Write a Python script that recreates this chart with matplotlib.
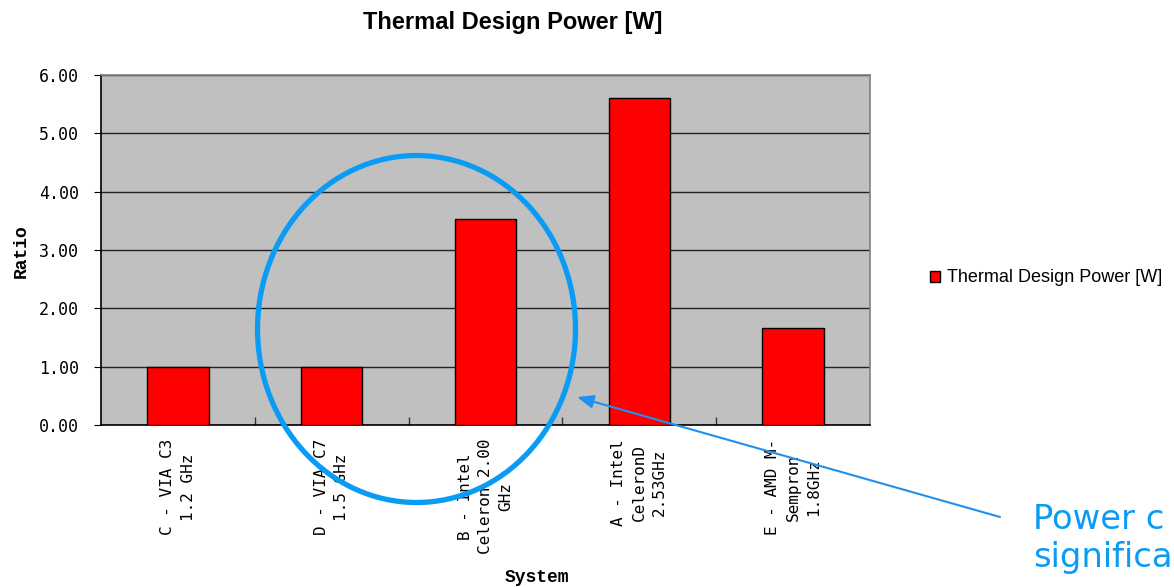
import matplotlib
matplotlib.use("Agg")
import matplotlib.pyplot as plt
from matplotlib.patches import Ellipse
from matplotlib.ticker import FixedLocator, FormatStrFormatter

categories = ["C - VIA C3\n1.2 GHz", "D - VIA C7\n1.5 GHz", "B - Intel\nCeleron 2.00\nGHz",
              "A - Intel\nCeleronD\n2.53GHz", "E - AMD M-\nSempron\n1.8GHz"]
values = [1.00, 1.00, 3.53, 5.61, 1.67]
series_name = "Thermal Design Power [W]"
y_ticks = [0, 1, 2, 3, 4, 5, 6]

W, H = 1174, 587
fig = plt.figure(figsize=(W / 100, H / 100), dpi=100)
ax = fig.add_axes([101 / W, 1 - 425 / H, (870 - 101) / W, (425 - 75) / H])

ax.set_facecolor("#C0C0C0")
x = list(range(len(categories)))
ax.bar(x, values, width=0.40, color="#FF0000", edgecolor="black", linewidth=1.0,
       label=series_name, zorder=3)
ax.set_xlim(-0.5, len(categories) - 0.5)
ax.set_ylim(0, 6)

ax.set_yticks(y_ticks)
ax.yaxis.set_major_formatter(FormatStrFormatter("%.2f"))
ax.yaxis.grid(True, color="#222222", linewidth=1.0)
ax.set_axisbelow(True)

ax.set_xticks(x)
ax.set_xticklabels(categories, rotation=90, family="DejaVu Sans Mono", fontsize=11.5,
                   linespacing=1.45, ha="center", va="top", multialignment="center")
ax.xaxis.set_minor_locator(FixedLocator([i + 0.5 for i in x[:-1]]))
ax.tick_params(axis="x", which="major", length=0, pad=10)
ax.tick_params(axis="x", which="minor", length=6, direction="in", color="#333333", width=1)
ax.tick_params(axis="y", length=5, direction="out", pad=11, labelsize=12)
for lbl in ax.get_yticklabels():
    lbl.set_family("DejaVu Sans Mono")

for s in ["left", "bottom"]:
    ax.spines[s].set_color("black")
    ax.spines[s].set_linewidth(1.2)
for s in ["top", "right"]:
    ax.spines[s].set_color("#808080")
    ax.spines[s].set_linewidth(1.2)

fig.text(513 / W, 1 - 22 / H, "Thermal Design Power [W]", ha="center", va="center",
         family="Liberation Sans", weight="bold", fontsize=17)
fig.text(537 / W, 1 - 577 / H, "System", ha="center", va="center",
         family="Liberation Mono", weight="bold", fontsize=13)
fig.text(21 / W, 1 - 251 / H, "Ratio", ha="center", va="center", rotation=90,
         family="Liberation Mono", weight="bold", fontsize=13)

leg = ax.legend(loc="center left", bbox_to_anchor=(930 / W, 1 - 278 / H),
                bbox_transform=fig.transFigure, frameon=False, borderpad=0,
                borderaxespad=0, handlelength=0.55, handleheight=0.55,
                handletextpad=0.4, prop={"family": "Liberation Sans", "size": 13})

ell = Ellipse((416.5 / W, 1 - 329 / H), 318 / W, 347 / H, transform=fig.transFigure,
              fill=False, edgecolor="#0A9CF5", linewidth=3.8, zorder=10)
fig.patches.append(ell)

fig.text(1033 / W, 1 - 503 / H, "Power c\nsignifica", ha="left", va="top",
         family="DejaVu Sans", fontsize=24.3, color="#0A9CF5",
         linespacing=1.2)

fig.add_artist(matplotlib.patches.FancyArrowPatch(
    posA=(1000 / W, 1 - 517 / H), posB=(577 / W, 1 - 397 / H),
    transform=fig.transFigure, arrowstyle="-|>,head_length=10,head_width=4",
    mutation_scale=1, color="#1E90F0", linewidth=1.5, shrinkA=0, shrinkB=0, zorder=11))

fig.savefig("out.png", dpi=100)
